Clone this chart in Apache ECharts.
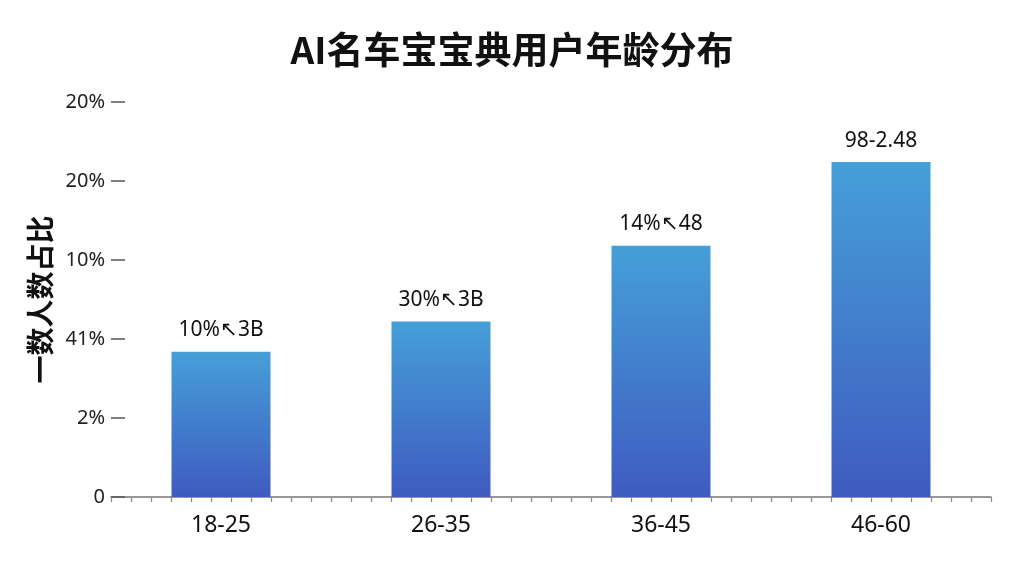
<!DOCTYPE html>
<html>
<head>
    <meta charset="utf-8">
    <title>AI名车宝宝典用户年龄分布</title>
    <script src="https://cdn.jsdelivr.net/npm/echarts@6/dist/echarts.min.js"></script>
    <style>
        html, body { margin: 0; padding: 0; background: #fff; }
        #chart1 { width: 1024px; height: 576px; }
    </style>
</head>
<body>
<div id="chart1"></div>
<script type="text/javascript">
    // 数据
    var ageGroups = ['18-25', '26-35', '36-45', '46-60'];
    var shareValues = [9.2, 11.1, 15.9, 21.2];
    var barLabels = ['10%↖3B', '30%↖3B', '14%↖48', '98-2.48'];
    var yTickLabels = ['0', '2%', '41%', '10%', '20%', '20%'];

    var myChart1 = echarts.init(document.getElementById('chart1'));
    var option = {
        backgroundColor: '#ffffff',
        animation: false,
        title: {
            text: 'AI名车宝宝典用户年龄分布',
            left: 'center',
            top: 26,
            textStyle: {
                fontFamily: 'Noto Sans CJK SC',
                fontSize: 37,
                fontWeight: 'bold',
                color: '#111'
            }
        },
        grid: { left: 111, right: 33, top: 102, bottom: 79 },
        xAxis: [{
            type: 'category',
            data: ageGroups,
            axisLine: { lineStyle: { color: '#777', width: 1.5 } },
            axisTick: { alignWithLabel: true, length: 9, lineStyle: { color: '#666', width: 1.5 } },
            axisLabel: {
                margin: 17,
                fontFamily: 'Noto Sans',
                fontSize: 23,
                color: '#111'
            }
        }, {
            // 小刻度
            type: 'value',
            position: 'bottom',
            min: 0,
            max: 44,
            interval: 1,
            axisLine: { show: false },
            axisTick: { show: true, length: 5, lineStyle: { color: '#888', width: 1.2 } },
            axisLabel: { show: false },
            splitLine: { show: false }
        }],
        yAxis: {
            type: 'value',
            min: 0,
            max: 25,
            interval: 5,
            name: '一数人数占比',
            nameLocation: 'middle',
            nameGap: 56,
            nameRotate: 90,
            nameTextStyle: {
                fontFamily: 'Noto Sans CJK SC',
                fontSize: 28,
                fontWeight: 'bold',
                color: '#111'
            },
            axisLine: { show: false },
            axisTick: { show: true, inside: true, length: 14, lineStyle: { color: '#555', width: 1.5 } },
            splitLine: { show: false },
            axisLabel: {
                margin: 6,
                fontFamily: 'Noto Sans',
                fontSize: 20,
                color: '#222',
                formatter: function (v) {
                    return yTickLabels[Math.round(v / 5)];
                }
            }
        },
        series: [{
            name: '人数占比',
            type: 'bar',
            xAxisIndex: 0,
            data: shareValues,
            barWidth: '45%',
            itemStyle: {
                color: new echarts.graphic.LinearGradient(0, 0, 0, 1, [
                    { offset: 0, color: '#459fd8' },
                    { offset: 1, color: '#3f5bc0' }
                ])
            },
            label: {
                show: true,
                position: 'top',
                distance: 11,
                fontFamily: 'Noto Sans',
                fontSize: 21,
                color: '#111',
                formatter: function (p) {
                    return barLabels[p.dataIndex];
                }
            }
        }]
    };
    myChart1.setOption(option);
</script>
</body>
</html>
